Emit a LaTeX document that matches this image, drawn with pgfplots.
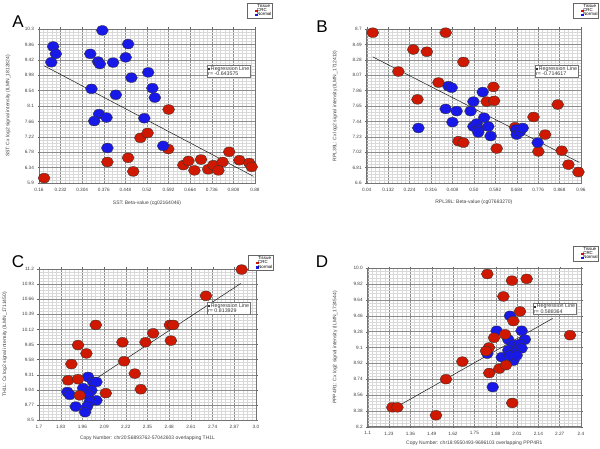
\documentclass[border=0pt]{standalone}
\usepackage{fontspec}
\setmainfont{Liberation Sans}
\usepackage{pgfplots}
\pgfplotsset{compat=1.18}

\definecolor{crc}{RGB}{208,24,0}
\definecolor{nrm}{RGB}{24,24,232}

\pgfplotsset{
  panel/.style={
    scale only axis, anchor=south west,
    grid=both, minor tick num=4,
    major grid style={black!45, line width=0.35pt},
    minor grid style={black!15, line width=0.3pt},
    axis line style={black!55, line width=0.6pt},
    tick align=outside, major tick length=1.5pt, minor tick length=0pt,
    tick style={black!60},
    ticklabel style={font=\fontsize{4.7}{5}\selectfont, text=black!75},
    label style={font=\fontsize{5}{6}\selectfont, text=black!75},
    clip=false,
    legend cell align=left,
    legend style={anchor=north west, font=\fontsize{4.4}{4.6}\selectfont,
      draw=black!60, inner sep=0.4pt, row sep=-1.2pt,
      nodes={inner sep=0.4pt}},
  },
  dots/.style={only marks, mark=*, mark size=4.9pt, forget plot,
    mark options={xscale=1.22, fill=#1, draw=black!80, line width=0.35pt}},
  reg/.style={black!90, line width=0.5pt, forget plot},
}
\tikzset{regnode/.style={draw=black!55, fill=white, align=left, inner sep=1pt,
    anchor=north west, font=\fontsize{5.3}{5.8}\selectfont, text=black!80}}
\newcommand{\tissuelegend}{%
  \addlegendimage{empty legend}\addlegendentry{Tissue}
  \addlegendimage{only marks, mark=square*, mark size=0.6pt, crc}\addlegendentry{CRC}
  \addlegendimage{only marks, mark=square*, mark size=0.7pt, nrm}\addlegendentry{Normal}}
\newcommand{\regbox}[1]{\rule{1.8pt}{1.8pt}\,Regression Line\\r= #1}

\begin{document}
\begin{tikzpicture}
\useasboundingbox (0,0) rectangle (600pt,449pt);

% ---- A
\begin{axis}[panel, at={(39pt,266pt)}, width=216pt, height=154pt,
  xmin=0.16, xmax=0.88, ymin=5.9, ymax=10.3,
  xtick={0.16,0.232,0.304,0.376,0.448,0.52,0.592,0.664,0.736,0.808,0.88},
  xticklabels={0.16,0.232,0.304,0.376,0.448,0.52,0.592,0.664,0.736,0.808,0.88},
  ytick={5.9,6.34,6.78,7.22,7.66,8.1,8.54,8.98,9.42,9.86,10.3},
  yticklabels={5.9,6.34,6.78,7.22,7.66,8.1,8.54,8.98,9.42,9.86,10.3},
  xlabel={SST: Beta-value (cg02164046)},
  ylabel={SST: Cx log2 signal intensity (ILMN\_1812824)},
  xlabel style={at={(axis description cs:0.5,-0.13)}, anchor=center},
  ylabel style={at={(axis description cs:-0.143,0.5)}, anchor=center},
  legend style={at={(axis description cs:0.963,1.169)}}]
\addplot[reg] coordinates {(0.177,9.25) (0.875,6.09)};
\addplot[dots=crc] coordinates {(0.177,6.04)(0.592,8.00)(0.498,7.19)(0.522,7.33)(0.591,6.87)(0.457,6.62)(0.388,6.50)(0.474,6.23)(0.641,6.41)(0.658,6.53)(0.678,6.26)(0.700,6.57)(0.724,6.29)(0.741,6.41)(0.772,6.50)(0.758,6.26)(0.794,6.79)(0.828,6.55)(0.861,6.47)(0.869,6.36)};
\addplot[dots=nrm] coordinates {(0.207,9.80)(0.216,9.59)(0.201,9.35)(0.371,10.26)(0.331,9.59)(0.357,9.37)(0.363,9.30)(0.407,9.34)(0.457,9.87)(0.449,9.49)(0.468,8.91)(0.524,9.06)(0.538,8.61)(0.546,8.34)(0.335,8.59)(0.416,8.42)(0.360,7.87)(0.344,7.67)(0.385,7.77)(0.511,7.75)(0.388,6.90)(0.574,6.96)};
\tissuelegend
\node[regnode] at (axis description cs:0.778,0.766) {\regbox{-0.643575}};
\end{axis}

% ---- B
\begin{axis}[panel, at={(366.7pt,266pt)}, width=214.3pt, height=154pt,
  xmin=0.04, xmax=0.96, ymin=6.6, ymax=8.7,
  xtick={0.04,0.132,0.224,0.316,0.408,0.5,0.592,0.684,0.776,0.868,0.96},
  xticklabels={0.04,0.132,0.224,0.316,0.408,0.50,0.592,0.684,0.776,0.868,0.96},
  ytick={6.6,6.81,7.02,7.23,7.44,7.65,7.86,8.07,8.28,8.49,8.7},
  yticklabels={6.6,6.81,7.02,7.23,7.44,7.65,7.86,8.07,8.28,8.49,8.7},
  xlabel={RPL39L: Beta-value (cg07683270)},
  ylabel={RPL39L: Cx log2 signal intensity (ILMN\_1712413)},
  xlabel style={at={(axis description cs:0.5,-0.123)}, anchor=center},
  ylabel style={at={(axis description cs:-0.148,0.5)}, anchor=center},
  legend style={at={(axis description cs:0.963,1.169)}}]
\addplot[reg] coordinates {(0.066,8.32) (0.953,6.88)};
\addplot[dots=crc] coordinates {(0.066,8.65)(0.379,8.65)(0.240,8.42)(0.298,8.39)(0.455,8.25)(0.176,8.12)(0.348,7.97)(0.258,7.74)(0.584,7.91)(0.555,7.71)(0.587,7.72)(0.860,7.67)(0.756,7.50)(0.677,7.36)(0.806,7.26)(0.434,7.17)(0.455,7.15)(0.598,7.07)(0.777,7.03)(0.877,7.04)(0.906,6.85)(0.949,6.75)};
\addplot[dots=nrm] coordinates {(0.262,7.35)(0.379,7.61)(0.391,7.92)(0.405,7.90)(0.426,7.58)(0.408,7.43)(0.486,7.58)(0.498,7.71)(0.538,7.84)(0.498,7.37)(0.512,7.41)(0.522,7.33)(0.519,7.29)(0.544,7.49)(0.562,7.37)(0.572,7.24)(0.681,7.33)(0.684,7.26)(0.698,7.30)(0.710,7.35)(0.774,7.15)};
\tissuelegend
\node[regnode] at (axis description cs:0.785,0.766) {\regbox{-0.714617}};
\end{axis}

% ---- C
\begin{axis}[panel, at={(39pt,29pt)}, width=217pt, height=151pt,
  xmin=1.7, xmax=3.0, ymin=8.5, ymax=11.2,
  xtick={1.7,1.83,1.96,2.09,2.22,2.35,2.48,2.61,2.74,2.87,3.0},
  xticklabels={1.7,1.83,1.96,2.09,2.22,2.35,2.48,2.61,2.74,2.87,3.0},
  ytick={8.5,8.77,9.04,9.31,9.58,9.85,10.12,10.39,10.66,10.93,11.2},
  yticklabels={8.5,8.77,9.04,9.31,9.58,9.85,10.12,10.39,10.66,10.93,11.2},
  xlabel={Copy Number: chr20:56893762-57042603 overlapping TH1L},
  ylabel={TH1L: Cx log2 signal intensity (ILMN\_1711450)},
  xlabel style={at={(axis description cs:0.5,-0.121)}, anchor=center},
  ylabel style={at={(axis description cs:-0.157,0.5)}, anchor=center},
  legend style={at={(axis description cs:0.963,1.09)}}]
\addplot[reg] coordinates {(2.044,9.245) (2.908,10.94)};
\addplot[dots=nrm] coordinates {(1.994,9.27)(2.024,9.18)(2.044,9.18)(1.870,9.00)(1.884,8.95)(1.964,9.07)(2.014,9.03)(1.994,8.95)(2.044,8.85)(2.004,8.83)(1.988,8.74)(1.920,8.74)(1.976,8.64)};
\addplot[dots=crc] coordinates {(2.914,11.19)(2.700,10.72)(2.040,10.20)(2.484,10.20)(2.504,10.20)(2.384,10.05)(2.490,9.92)(2.338,9.89)(2.200,9.89)(1.934,9.84)(1.984,9.69)(2.210,9.55)(1.894,9.50)(2.274,9.33)(1.874,9.21)(1.934,9.23)(2.310,9.05)(2.100,8.98)(1.944,8.94)};
\tissuelegend
\node[regnode] at (axis description cs:0.774,0.781) {\regbox{0.813929}};
\end{axis}

% ---- D
\begin{axis}[panel, at={(367.7pt,22.3pt)}, width=213.3pt, height=158.4pt,
  xmin=1.1, xmax=2.4, ymin=8.2, ymax=10.0,
  xtick={1.1,1.23,1.36,1.49,1.62,1.75,1.88,2.01,2.14,2.27,2.4},
  xticklabels={1.1,1.23,1.36,1.49,1.62,1.75,1.88,2.01,2.14,2.27,2.4},
  ytick={8.2,8.38,8.56,8.74,8.92,9.1,9.28,9.46,9.64,9.82,10.0},
  yticklabels={8.2,8.38,8.56,8.74,8.92,9.1,9.28,9.46,9.64,9.82,10.0},
  xlabel={Copy Number: chr18:9550493-9696103 overlapping PPP4R1},
  ylabel={PPP4R1: Cx log2 signal intensity (ILMN\_1724544)},
  xlabel style={at={(axis description cs:0.5,-0.105)}, anchor=center},
  ylabel style={at={(axis description cs:-0.153,0.5)}, anchor=center},
  legend style={at={(axis description cs:0.963,1.14)}}]
\addplot[reg] coordinates {(1.281,8.43) (2.227,9.43)};
\addplot[dots=nrm] coordinates {(1.967,9.46)(1.886,9.29)(2.038,9.29)(2.058,9.19)(1.957,9.19)(1.988,9.13)(2.028,9.14)(1.957,9.07)(2.038,9.09)(1.998,9.04)(1.988,8.95)(1.917,8.99)(1.967,9.01)(1.829,9.03)(1.862,8.65)(2.008,9.01)};
\addplot[dots=crc] coordinates {(1.829,9.935)(1.979,9.86)(2.069,9.88)(1.927,9.68)(2.028,9.51)(1.988,9.40)(2.333,9.24)(1.937,9.25)(1.870,9.21)(1.839,9.10)(1.821,9.06)(1.677,8.94)(1.902,8.86)(1.943,8.90)(1.841,8.81)(1.577,8.74)(1.981,8.47)(1.250,8.42)(1.281,8.42)(1.516,8.33)};
\tissuelegend
\node[regnode] at (axis description cs:0.775,0.783) {\regbox{0.588364}};
\end{axis}

% panel letters
\node[font=\fontsize{17}{17}\selectfont] at (18pt,427pt) {A};
\node[font=\fontsize{17}{17}\selectfont] at (322pt,422pt) {B};
\node[font=\fontsize{17}{17}\selectfont] at (18pt,187pt) {C};
\node[font=\fontsize{17}{17}\selectfont] at (322pt,187pt) {D};
\end{tikzpicture}
\end{document}
